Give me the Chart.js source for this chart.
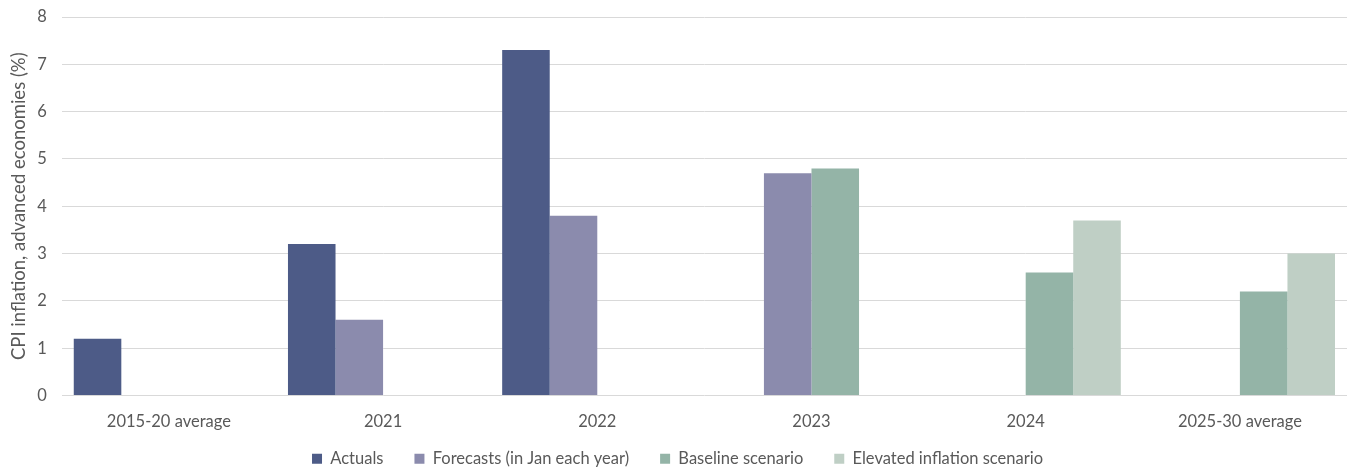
<!DOCTYPE html>
<html>
<head>
<meta charset="utf-8">
<script src="https://cdn.jsdelivr.net/npm/chart.js@4"></script>
<style>
  html, body { margin: 0; padding: 0; background: #fff; }
  #wrap { width: 1353px; height: 470px; }
</style>
</head>
<body>
<div id="wrap"><canvas id="chart"></canvas></div>
<script>
const categories = ["2015-20 average", "2021", "2022", "2023", "2024", "2025-30 average"];
const actuals = [1.2, 3.2, 7.3, null, null, null];
const forecasts = [null, 1.6, 3.8, 4.7, null, null];
const baseline = [null, null, null, 4.8, 2.6, 2.2];
const elevated = [null, null, null, null, 3.7, 3.0];
const yTicks = [0, 1, 2, 3, 4, 5, 6, 7, 8];

// legend needs wide gaps between items but sits close under the axis labels,
// so pull it up a bit after layout
const nudgeLegend = {
  id: "nudgeLegend",
  afterLayout(chart) {
    chart.legend.top -= 16;
    chart.legend.bottom -= 16;
  },
};

const ctx = document.getElementById("chart").getContext("2d");

new Chart(ctx, {
  type: "bar",
  data: {
    labels: categories,
    datasets: [
      { label: "Actuals", data: actuals, backgroundColor: "#4d5b87" },
      { label: "Forecasts (in Jan each year)", data: forecasts, backgroundColor: "#8b8bad" },
      { label: "Baseline scenario", data: baseline, backgroundColor: "#94b4a7" },
      { label: "Elevated inflation scenario", data: elevated, backgroundColor: "#bfcfc5" },
    ],
  },
  options: {
    responsive: true,
    maintainAspectRatio: false,
    animation: false,
    layout: { padding: { top: 17, right: 6, left: 8, bottom: -23 } },
    datasets: {
      bar: { categoryPercentage: 0.888, barPercentage: 1.0 },
    },
    scales: {
      x: {
        grid: { display: false, drawTicks: false },
        border: { display: false },
        ticks: {
          color: "#595959",
          font: { family: "Lato", size: 16.5 },
          padding: 16,
        },
        afterFit: (axis) => {
          axis.paddingLeft = 0;
          axis.paddingRight = 0;
          axis.height = 40;
        },
      },
      y: {
        min: yTicks[0],
        max: yTicks[yTicks.length - 1],
        grid: { color: "#d9d9d9", lineWidth: 1, drawTicks: false },
        border: { display: false },
        ticks: {
          stepSize: yTicks[1] - yTicks[0],
          color: "#595959",
          font: { family: "Lato", size: 16.5 },
          padding: 15,
        },
        title: {
          display: true,
          text: "CPI inflation, advanced economies (%)",
          color: "#595959",
          font: { family: "Lato", size: 18.5 },
          padding: { top: 0, bottom: -8 },
        },
        afterFit: (axis) => {
          axis.paddingTop = 0;
          axis.paddingBottom = 0;
        },
      },
    },
    plugins: {
      legend: {
        position: "bottom",
        labels: {
          boxWidth: 10,
          boxHeight: 10,
          padding: 31,
          color: "#595959",
          font: { family: "Lato", size: 16.5 },
        },
      },
      tooltip: { enabled: false },
    },
  },
  plugins: [nudgeLegend],
});
</script>
</body>
</html>
